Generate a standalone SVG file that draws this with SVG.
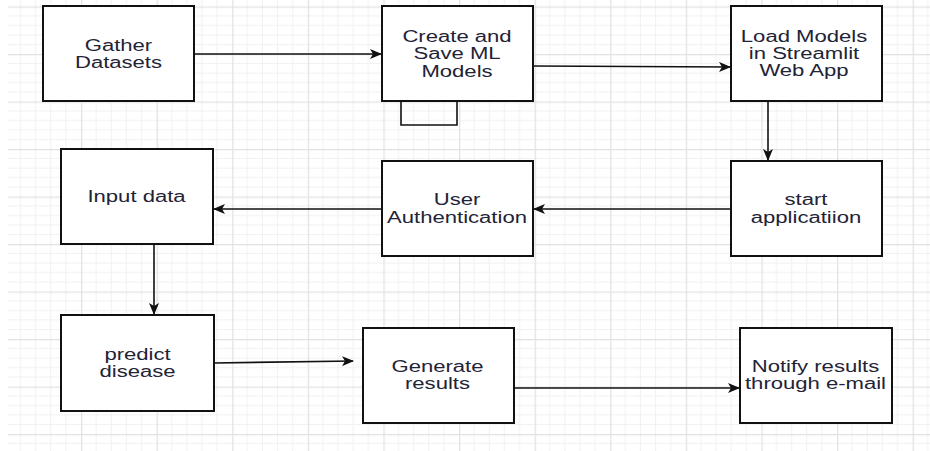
<svg xmlns="http://www.w3.org/2000/svg" width="930" height="451" viewBox="0 0 930 451">
<style>
.box{fill:#fff;stroke:#111;stroke-width:2}
.lbl{font-family:"Liberation Sans",Arial,sans-serif;font-size:16px;fill:#232336;text-anchor:middle}
.conn{fill:none;stroke:#111;stroke-width:1.6}
</style>
<defs>
<pattern id="grid" patternUnits="userSpaceOnUse" x="5.4" y="6.5" width="75.6" height="47.5">
<rect width="75.6" height="47.5" fill="#fff"/>
<path d="M15.12,0V47.5M30.24,0V47.5M45.36,0V47.5M60.48,0V47.5M0,9.5H75.6M0,19H75.6M0,28.5H75.6M0,38H75.6" stroke="#f1f1f1" stroke-width="1"/>
<path d="M0.5,0V47.5M0,0.5H75.6" stroke="#e2e2e2" stroke-width="1.5"/>
</pattern>
<marker id="arr" viewBox="0 0 12 10" refX="11" refY="5" markerWidth="12" markerHeight="10" markerUnits="userSpaceOnUse" orient="auto">
<path d="M0,0L12,5L0,10L3,5Z" fill="#111"/>
</marker>
</defs>
<rect x="0" y="0" width="930" height="451" fill="#fff"/>
<rect x="8" y="0" width="922" height="451" fill="url(#grid)"/>

<g id="connectors">
<path class="conn" d="M194,54H381" marker-end="url(#arr)"/>
<path class="conn" d="M533,66L730,67" marker-end="url(#arr)"/>
<path class="conn" d="M768,101V160" marker-end="url(#arr)"/>
<path class="conn" d="M731,209H534" marker-end="url(#arr)"/>
<path class="conn" d="M382,209H214" marker-end="url(#arr)"/>
<path class="conn" d="M154,244V314" marker-end="url(#arr)"/>
<path class="conn" d="M214,363L353,361" marker-end="url(#arr)"/>
<path class="conn" d="M514,388H739" marker-end="url(#arr)"/>
<path class="conn" d="M401,101V125H457V101"/>
</g>

<g id="gather">
<rect class="box" x="43" y="6" width="151" height="95"/>
<g transform="translate(118.5,0) scale(1.38,1)"><text class="lbl" x="0" y="50.7">Gather</text><text class="lbl" x="0" y="67.7">Datasets</text></g>
</g>
<g id="create">
<rect class="box" x="382" y="6" width="151" height="95"/>
<g transform="translate(457,0) scale(1.38,1)"><text class="lbl" x="0" y="41.7">Create and</text><text class="lbl" x="0" y="59.3">Save ML</text><text class="lbl" x="0" y="76.7">Models</text></g>
</g>
<g id="load">
<rect class="box" x="731" y="6" width="151" height="95"/>
<g transform="translate(804,0) scale(1.38,1)"><text class="lbl" x="0" y="41.7">Load Models</text><text class="lbl" x="0" y="58.7">in Streamlit</text><text class="lbl" x="0" y="76">Web App</text></g>
</g>
<g id="start">
<rect class="box" x="731" y="161" width="151" height="95"/>
<g transform="translate(806,0) scale(1.38,1)"><text class="lbl" x="0" y="205">start</text><text class="lbl" x="0" y="222.7">applicatiion</text></g>
</g>
<g id="auth">
<rect class="box" x="382" y="161" width="151" height="95"/>
<g transform="translate(457,0) scale(1.38,1)"><text class="lbl" x="0" y="204.7">User</text><text class="lbl" x="0" y="222.7">Authentication</text></g>
</g>
<g id="input">
<rect class="box" x="61" y="149" width="152" height="95"/>
<g transform="translate(136.5,0) scale(1.38,1)"><text class="lbl" x="0" y="201.7">Input data</text></g>
</g>
<g id="predict">
<rect class="box" x="61" y="315" width="153" height="96"/>
<g transform="translate(137.5,0) scale(1.38,1)"><text class="lbl" x="0" y="360">predict</text><text class="lbl" x="0" y="377.3">disease</text></g>
</g>
<g id="generate">
<rect class="box" x="363" y="328" width="151" height="95"/>
<g transform="translate(437.5,0) scale(1.38,1)"><text class="lbl" x="0" y="371.7">Generate</text><text class="lbl" x="0" y="389.3">results</text></g>
</g>
<g id="notify">
<rect class="box" x="740" y="328" width="152" height="95"/>
<g transform="translate(815.5,0) scale(1.38,1)"><text class="lbl" x="0" y="371.7">Notify results</text><text class="lbl" x="0" y="389.3">through e-mail</text></g>
</g>
</svg>
